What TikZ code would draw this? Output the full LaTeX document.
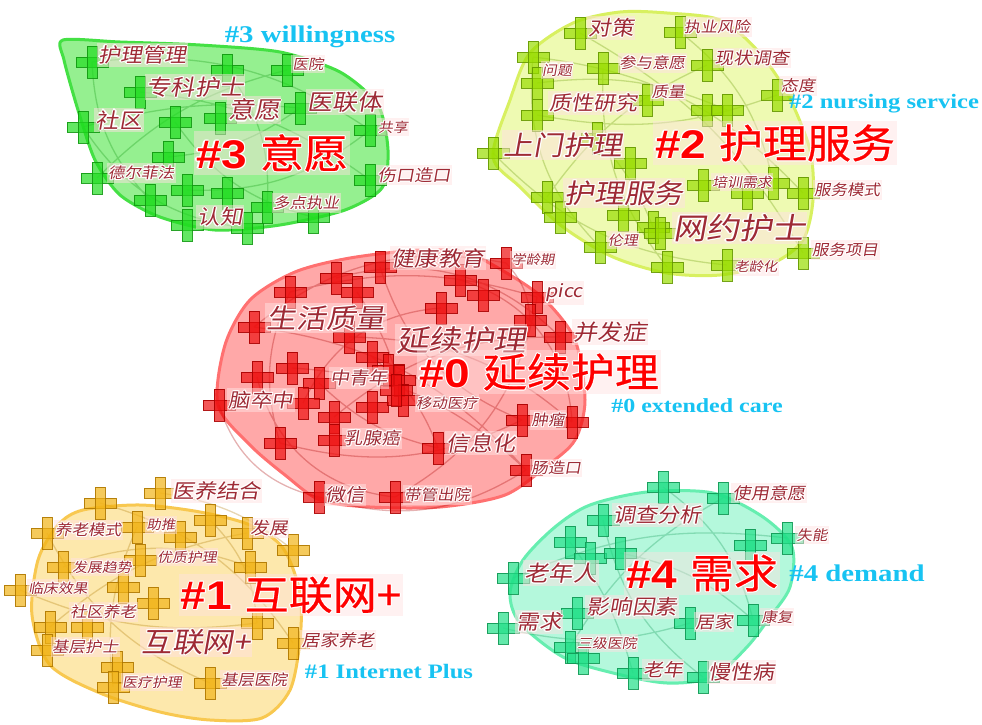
\documentclass[tikz,border=0pt]{standalone}
\usepackage{fontspec}
\newfontfamily\cjk[FakeSlant=0.18,FakeStretch=1.1]{Noto Sans CJK SC}
\newfontfamily\cjkh[FakeStretch=1.1,FakeBold=0.6]{Noto Sans CJK SC}
\newfontfamily\hdf[FakeStretch=1.15]{Liberation Sans}
\newfontfamily\enf[FakeStretch=1.2]{Liberation Serif}
\definecolor{labred}{HTML}{9E2A35}
\definecolor{pinkbg}{HTML}{FFE2E2}
\definecolor{cyanl}{HTML}{17C3F2}
\definecolor{hAb}{HTML}{44E044}\definecolor{hAf}{HTML}{95F090}
\definecolor{cA}{HTML}{22DD22}\definecolor{cAd}{HTML}{119911}
\definecolor{hBb}{HTML}{D8F060}\definecolor{hBf}{HTML}{EEFAB2}
\definecolor{cB}{HTML}{99DD00}\definecolor{cBd}{HTML}{669900}
\definecolor{hRb}{HTML}{FF7070}\definecolor{hRf}{HTML}{FFA8A8}
\definecolor{cR}{HTML}{EE1111}\definecolor{cRd}{HTML}{AA0000}
\definecolor{hOb}{HTML}{F8C850}\definecolor{hOf}{HTML}{FDE8AC}
\definecolor{cO}{HTML}{F2B418}\definecolor{cOd}{HTML}{B07800}
\definecolor{hTb}{HTML}{66EEB0}\definecolor{hTf}{HTML}{B4F8DC}
\definecolor{cT}{HTML}{22E088}\definecolor{cTd}{HTML}{119955}
% white halo round a text
\newcommand\hw[3]{\rlap{\kern#1\raisebox{#2}{\color{white}#3}}}
\newcommand\halo[1]{\leavevmode\hw{1.1pt}{0pt}{#1}\hw{-1.1pt}{0pt}{#1}\hw{0pt}{1.1pt}{#1}\hw{0pt}{-1.1pt}{#1}\hw{0.8pt}{0.8pt}{#1}\hw{-0.8pt}{0.8pt}{#1}\hw{0.8pt}{-0.8pt}{#1}\hw{-0.8pt}{-0.8pt}{#1}#1}
\tikzset{
  crs/.pic={\path[pic actions] (-16,-5) rectangle (16,5); \path[pic actions] (-5,-16) rectangle (5,16);},
  cross/.style 2 args={fill=#1, draw=#2, fill opacity=0.7, draw opacity=0.9, line width=0.7pt},
  hull/.style 2 args={draw=#1, fill=#2, line width=3pt, line join=round},
  link/.style={draw=#1, line width=1.3pt, draw opacity=0.3},
  lab/.style={font=\cjk\fontsize{#1}{#1}\selectfont, text=labred, inner sep=1.5pt,
    fill=pinkbg, fill opacity=0.5, text opacity=1},
  clab/.style={font=\fontsize{40}{40}\selectfont, text=red, inner sep=2pt,
    fill=pinkbg, fill opacity=0.45, text opacity=1},
  elab/.style={font=\enf\bfseries\fontsize{#1}{#1}\selectfont, text=cyanl, inner sep=0pt},
}
\begin{document}
\begin{tikzpicture}[x=1pt,y=-1pt]
\useasboundingbox (0,0) rectangle (982,725);
\fill[white] (0,0) rectangle (982,725);
% ---------- hulls ----------
\draw[hull={hAb}{hAf}] plot[smooth cycle, tension=0.45] coordinates {(63,40) (120,42) (200,45) (280,52) (340,72) (378,105) (388,150) (382,188) (345,210) (280,225) (215,230) (160,217) (120,195) (95,160) (78,110) (64,60)};
\draw[hull={hBb}{hBf}] plot[smooth cycle, tension=0.5] coordinates {(573,23) (620,12) (667,13) (720,20) (757,50) (787,93) (810,150) (813,200) (803,240) (773,263) (720,275) (667,273) (613,257) (563,227) (520,187) (493,157) (510,100) (530,53)};
\draw[hull={hRb}{hRf}] plot[smooth cycle, tension=0.5] coordinates {(350,258) (420,250) (467,253) (510,275) (545,300) (575,340) (585,400) (575,440) (548,465) (505,495) (440,507) (370,507) (320,500) (285,475) (250,445) (218,405) (225,345) (250,300) (295,272)};
\draw[hull={hOb}{hOf}] plot[smooth cycle, tension=0.5] coordinates {(83,510) (140,505) (200,512) (250,525) (283,548) (300,593) (300,640) (290,690) (262,718) (210,720) (160,712) (100,693) (50,665) (32,615) (38,560) (58,525)};
\draw[hull={hTb}{hTf}] plot[smooth cycle, tension=0.5] coordinates {(590,505) (647,492) (713,493) (763,517) (792,547) (790,587) (770,617) (747,647) (713,677) (667,683) (613,673) (563,657) (520,623) (510,593) (523,560) (555,527)};
% ---------- cross positions ----------
\def\ptsA{a1/92/62,a2/140/92,a3/287/70,a4/227/70,a5/175/122,a6/220/118,a7/300/108,a8/83/127,a9/168/157,a10/370/130,a11/97/178,a12/150/200,a13/187/190,a14/227/193,a15/247/228,a16/187/225,a17/267/207,a18/370/180,a19/313/217}
\def\ptsB{b1/580/33,b2/680/32,b3/533/57,b4/537/83,b5/603/68,b6/707/65,b7/647/100,b8/707/110,b9/727/110,b10/777/95,b11/537/115,b12/493/153,b13/597/138,b14/630/163,b15/547/197,b16/560/217,b17/703/185,b18/747/193,b19/773/183,b20/803/193,b21/653/227,b22/600/247,b23/667/267,b24/727/265,b25/803/253,b26/660/233,b27/623/215}
\def\ptsR{r1/336/278,r2/290/292,r3/380/267,r4/357/292,r5/460/280,r6/506/263,r7/483/295,r8/441/308,r9/537/297,r10/254/327,r11/349/337,r12/372/357,r13/530/320,r14/560/337,r15/292/368,r16/257/377,r17/319/383,r18/399/380,r19/219/405,r20/303/403,r21/334/417,r22/372/407,r23/403/400,r24/280/443,r25/334/440,r26/438/448,r27/522/420,r28/572/422,r29/526/470,r30/319/497,r31/395/497,r32/388/370,r33/396/390}
\def\ptsO{o1/100/503,o2/160/493,o3/47/533,o4/137/527,o5/210/520,o6/180/537,o7/247/533,o8/293/550,o9/63/567,o10/140/560,o11/250/567,o12/20/590,o13/123/587,o14/153/603,o15/50/627,o16/87/627,o17/47/650,o18/117/667,o19/257/623,o20/293/643,o21/113/687,o22/210/683}
\def\ptsT{t1/663/487,t2/723/498,t3/603/520,t4/570/542,t5/590/558,t6/620/553,t7/750/545,t8/787/538,t9/513/578,t10/503/628,t11/577/613,t12/690/623,t13/753/620,t14/570/647,t15/583/658,t16/633/673,t17/703/677}
\foreach \n/\a/\b in \ptsA {\coordinate (\n) at (\a,\b);}
\foreach \n/\a/\b in \ptsB {\coordinate (\n) at (\a,\b);}
\foreach \n/\a/\b in \ptsR {\coordinate (\n) at (\a,\b);}
\foreach \n/\a/\b in \ptsO {\coordinate (\n) at (\a,\b);}
\foreach \n/\a/\b in \ptsT {\coordinate (\n) at (\a,\b);}
% ---------- links ----------
\draw[link=cAd] (a1) to[bend left=20] (a10) (a8) to[bend right=25] (a15) (a2) to[bend left=15] (a18) (a5) to[bend right=20] (a19) (a11) to[bend left=15] (a3) (a9) to[bend right=15] (a7) (a1) to[bend right=20] (a12) (a4) to[bend left=20] (a17) (a8) to[bend left=10] (a7) (a13) to[bend right=20] (a10);
\draw[link=cBd] (b3) to[bend left=20] (b20) (b12) to[bend right=20] (b24) (b1) to[bend left=15] (b25) (b11) to[bend right=15] (b10) (b15) to[bend left=15] (b6) (b5) to[bend right=20] (b23) (b3) to[bend right=25] (b22) (b2) to[bend left=20] (b19) (b13) to[bend left=10] (b21) (b4) to[bend left=15] (b9);
\draw[link=cRd] (r1) to[bend left=30] (r14) (r3) to[bend right=25] (r27) (r10) to[bend left=20] (r29) (r5) to[bend left=35] (r28) (r19) to[bend right=30] (r30) (r12) to[bend left=15] (r26) (r6) to[bend left=20] (r13) (r2) to[bend right=20] (r24) (r9) to[bend left=25] (r31) (r15) to[bend left=20] (r29) (r8) to[bend right=30] (r20) (r4) to[bend left=10] (r23) (r16) to[bend right=35] (r31) (r30) to[bend right=25] (r29) (r10) to[bend left=25] (r6) (r24) to[bend right=20] (r27) (r11) to[bend left=20] (r28) (r17) to[bend right=15] (r26) (r2) to[bend left=15] (r9) (r21) to[bend left=20] (r14);
\draw[link=cOd] (o1) to[bend left=20] (o20) (o3) to[bend right=20] (o22) (o2) to[bend left=15] (o8) (o12) to[bend right=15] (o19) (o9) to[bend left=20] (o11) (o4) to[bend right=15] (o21) (o5) to[bend left=20] (o19) (o15) to[bend left=15] (o7);
\draw[link=cTd] (t1) to[bend left=20] (t13) (t3) to[bend right=20] (t17) (t9) to[bend left=15] (t8) (t10) to[bend right=15] (t12) (t4) to[bend left=10] (t16) (t2) to[bend right=15] (t14) (t6) to[bend left=15] (t13);
% ---------- crosses ----------
\foreach \n/\a/\b in \ptsA {\pic[cross={cA}{cAd}] at (\n) {crs};}
\foreach \n/\a/\b in \ptsB {\pic[cross={cB}{cBd}] at (\n) {crs};}
\foreach \n/\a/\b in \ptsR {\pic[cross={cR}{cRd}] at (\n) {crs};}
\foreach \n/\a/\b in \ptsO {\pic[cross={cO}{cOd}] at (\n) {crs};}
\foreach \n/\a/\b in \ptsT {\pic[cross={cT}{cTd}] at (\n) {crs};}
% ---------- cluster #3 labels ----------
\node[lab=20] (a_hlgl) at (142,55) {\halo{护理管理}};
\node[lab=14] (a_yy) at (308,64) {\halo{医院}};
\node[lab=22] (a_zkhs) at (195,87) {\halo{专科护士}};
\node[lab=23.5] (a_yw) at (254,110) {\halo{意愿}};
\node[lab=22.5] (a_ylt) at (345,102) {\halo{医联体}};
\node[lab=21] (a_sq) at (119,120) {\halo{社区}};
\node[lab=13.5] (a_gx) at (393,127) {\halo{共享}};
\node[lab=15] (a_defa) at (141,173) {\halo{德尔菲法}};
\node[lab=16.5] (a_skzk) at (414,175) {\halo{伤口造口}};
\node[lab=15] (a_ddzy) at (306,203) {\halo{多点执业}};
\node[lab=20.5] (a_rz) at (220,217) {\halo{认知}};
\node[clab] (k3) at (272,153) {\halo{{\hdf\bfseries\#3 }{\cjkh 意愿}}};
\node[elab=24] (e3) at (310,37) {\#3 willingness};
% ---------- cluster #2 labels ----------
\node[lab=20.5] (b_dc) at (611,28) {\halo{对策}};
\node[lab=15] (b_zyfx) at (717,27) {\halo{执业风险}};
\node[lab=13.5] (b_wt) at (557,70) {\halo{问题}};
\node[lab=15] (b_cyyy) at (652,63) {\halo{参与意愿}};
\node[lab=17] (b_xzdc) at (752,58) {\halo{现状调查}};
\node[lab=15] (b_zl) at (668,92) {\halo{质量}};
\node[lab=15.5] (b_td) at (798,86) {\halo{态度}};
\node[lab=20] (b_zxyj) at (593,103) {\halo{质性研究}};
\node[lab=27] (b_smhl) at (563,145) {\halo{上门护理}};
\node[lab=27] (b_hlfw) at (624,193) {\halo{护理服务}};
\node[lab=13.5] (b_pxxq) at (742,182) {\halo{培训需求}};
\node[lab=15] (b_fwms) at (847,190) {\halo{服务模式}};
\node[lab=30] (b_wyhs) at (739,228) {\halo{网约护士}};
\node[lab=13.5] (b_ll) at (623,240) {\halo{伦理}};
\node[lab=15] (b_fwxm) at (845,250) {\halo{服务项目}};
\node[lab=13] (b_llh) at (756,267) {\halo{老龄化}};
\node[clab] (k2) at (775,143) {\halo{{\hdf\bfseries\#2 }{\cjkh 护理服务}}};
\node[elab=20.5] (e2) at (884,104) {\#2 nursing service};
% ---------- cluster #0 labels ----------
\node[lab=21] (r_jkjy) at (438,258) {\halo{健康教育}};
\node[lab=13] (r_xlq) at (533,260) {\halo{学龄期}};
\node[lab=18] (r_picc) at (564,293) {\halo{picc}};
\node[lab=27] (r_shzl) at (326,318) {\halo{生活质量}};
\node[lab=29.5] (r_yxhl) at (461,340) {\halo{延续护理}};
\node[lab=22] (r_bfz) at (610,332) {\halo{并发症}};
\node[lab=17.5] (r_zqn) at (359,378) {\halo{中青年}};
\node[lab=19.5] (r_ncz) at (261,400) {\halo{脑卒中}};
\node[lab=14] (r_yd) at (447,403) {\halo{移动医疗}};
\node[lab=15] (r_zl) at (548,420) {\halo{肿瘤}};
\node[lab=17] (r_rxa) at (372,438) {\halo{乳腺癌}};
\node[lab=21] (r_xxh) at (481,443) {\halo{信息化}};
\node[lab=15] (r_czk) at (556,468) {\halo{肠造口}};
\node[lab=18] (r_wx) at (345,495) {\halo{微信}};
\node[lab=15] (r_dgcy) at (437,495) {\halo{带管出院}};
\node[clab] (k0) at (539,372) {\halo{{\hdf\bfseries\#0 }{\cjkh 延续护理}}};
\node[elab=20] (e0) at (697,406) {\#0 extended care};
% ---------- cluster #1 labels ----------
\node[lab=20] (o_yyjh) at (216,491) {\halo{医养结合}};
\node[lab=15] (o_ylms) at (88,530) {\halo{养老模式}};
\node[lab=13] (o_zt) at (161,525) {\halo{助推}};
\node[lab=17] (o_fz) at (269,528) {\halo{发展}};
\node[lab=13.5] (o_yzhl) at (187,557) {\halo{优质护理}};
\node[lab=13.5] (o_fzqs) at (102,567) {\halo{发展趋势}};
\node[lab=13.5] (o_lcxg) at (58,588) {\halo{临床效果}};
\node[lab=15] (o_sqyl) at (103,612) {\halo{社区养老}};
\node[lab=28] (o_hlw) at (196,642) {\halo{互联网+}};
\node[lab=15] (o_jchs) at (85,647) {\halo{基层护士}};
\node[lab=16.5] (o_jjyl) at (338,640) {\halo{居家养老}};
\node[lab=13.5] (o_ylhl) at (152,682) {\halo{医疗护理}};
\node[lab=15] (o_jcyy) at (254,680) {\halo{基层医院}};
\node[clab] (k1) at (291,595) {\halo{{\hdf\bfseries\#1 }{\cjkh 互联网+}}};
\node[elab=20.5] (e1) at (389,672) {\#1 Internet Plus};
% ---------- cluster #4 labels ----------
\node[lab=16.5] (t_syyy) at (769,493) {\halo{使用意愿}};
\node[lab=20] (t_dcfx) at (657,515) {\halo{调查分析}};
\node[lab=14] (t_sn) at (812,535) {\halo{失能}};
\node[lab=22] (t_lnr) at (561,573) {\halo{老年人}};
\node[lab=20.5] (t_yxys) at (632,607) {\halo{影响因素}};
\node[lab=20.5] (t_xq) at (539,622) {\halo{需求}};
\node[lab=17] (t_jj) at (714,622) {\halo{居家}};
\node[lab=14] (t_kf) at (777,617) {\halo{康复}};
\node[lab=13.5] (t_sjyy) at (607,643) {\halo{三级医院}};
\node[lab=18] (t_ln) at (663,670) {\halo{老年}};
\node[lab=20] (t_mxb) at (741,672) {\halo{慢性病}};
\node[clab] (k4) at (702,573) {\halo{{\hdf\bfseries\#4 }{\cjkh 需求}}};
\node[elab=24] (e4) at (857,573) {\#4 demand};
\end{tikzpicture}
\end{document}
